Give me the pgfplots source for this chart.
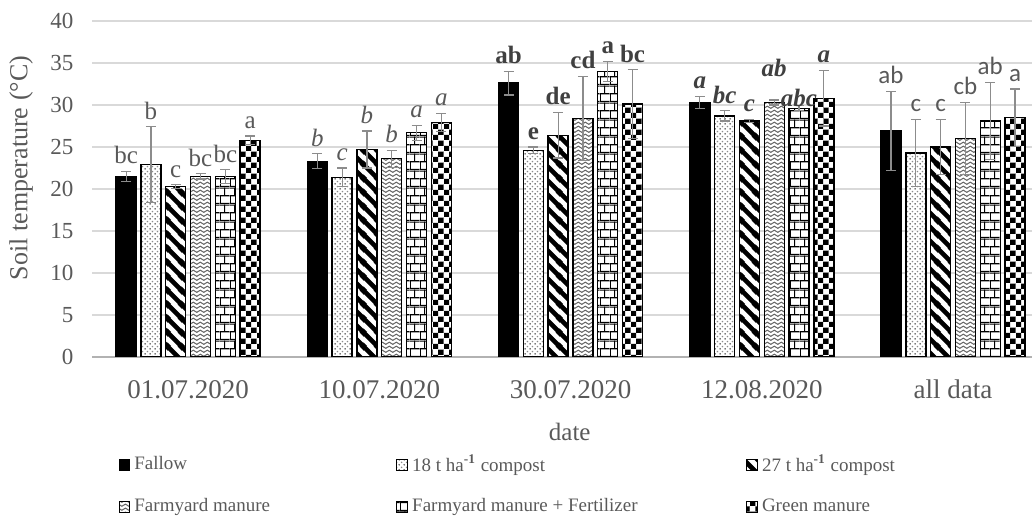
\documentclass[border=0pt]{standalone}
\usepackage{pgfplots}
\pgfplotsset{compat=1.18}
\usepackage{pgfplotstable}
\usepackage{fontspec}
\setmainfont{Liberation Serif}
\newfontfamily\calibri{Carlito}
\usetikzlibrary{patterns.meta}
\definecolor{txt}{HTML}{595959}
\definecolor{gridc}{HTML}{D9D9D9}

\tikzdeclarepattern{
  name=pdots, type=colored,
  bottom left={(0pt,0pt)}, top right={(2.4pt,2.4pt)}, tile size={(2.4pt,2.4pt)},
  code={
    \fill[white] (0pt,0pt) rectangle (2.4pt,2.4pt);
    \fill[black!70] (0.6pt,0.6pt) circle (0.42pt);
    \fill[black!45] (1.8pt,1.8pt) circle (0.42pt);
  }
}
\tikzdeclarepattern{
  name=pstripes, type=colored,
  bottom left={(0pt,0pt)}, top right={(7pt,7pt)}, tile size={(7pt,7pt)},
  code={
    \fill[white] (0pt,0pt) rectangle (7pt,7pt);
    \draw[black, line width=2.4pt] (-1pt,8pt) -- (8pt,-1pt);
    \draw[black, line width=2.4pt] (-1pt,1pt) -- (1pt,-1pt);
    \draw[black, line width=2.4pt] (6pt,8pt) -- (8pt,6pt);
  }
}
\tikzdeclarepattern{
  name=pzig, type=colored,
  bottom left={(0pt,0pt)}, top right={(3.4pt,2.2pt)}, tile size={(3.4pt,2.2pt)},
  code={
    \fill[white] (0pt,0pt) rectangle (3.4pt,2.2pt);
    \draw[black!60, line width=0.55pt] (-0.5pt,0.1pt) -- (1.7pt,1.6pt) -- (3.9pt,0.1pt);
  }
}
\tikzdeclarepattern{
  name=pbricks, type=colored,
  bottom left={(0pt,0pt)}, top right={(5pt,8.6pt)}, tile size={(5pt,8.6pt)},
  code={
    \fill[white] (0pt,0pt) rectangle (5pt,8.6pt);
    \fill[black] (0pt,0pt) rectangle (5pt,0.6pt);
    \fill[black] (0pt,8.0pt) rectangle (5pt,8.6pt);
    \fill[black] (0pt,4.0pt) rectangle (5pt,4.6pt);
    \fill[black] (0pt,0pt) rectangle (0.5pt,4.3pt);
    \fill[black] (2.25pt,4.3pt) rectangle (2.75pt,8.6pt);
  }
}
\tikzdeclarepattern{
  name=pchecker, type=colored,
  bottom left={(0pt,0pt)}, top right={(5.6pt,5.6pt)}, tile size={(5.6pt,5.6pt)},
  code={
    \fill[white] (0pt,0pt) rectangle (5.6pt,5.6pt);
    \fill[black] (0pt,0pt) rectangle (2.8pt,2.8pt);
    \fill[black] (2.8pt,2.8pt) rectangle (5.6pt,5.6pt);
  }
}

\protected\def\LA#1{#1}
\protected\def\LB#1{\itshape #1}
\protected\def\LC#1{\color{black!75}\bfseries #1}
\protected\def\LD#1{\color{black!75}\bfseries\itshape #1}
\protected\def\LE#1{\calibri #1}

\pgfplotstableread{
x v e dy lab
0 21.5 0.6 0 \LA{bc}
1 23.3 0.9 0 \LB{b}
2 32.6 1.4 0 \LC{ab}
3 30.3 0.7 0 \LD{a}
4 26.9 4.7 0 \LE{ab}
}\tA
\pgfplotstableread{
x v e dy lab
0 22.9 4.5 0 \LA{b}
1 21.4 1.1 0 \LB{c}
2 24.6 0.4 0 \LC{e}
3 28.7 0.6 0 \LD{bc}
4 24.3 4.0 0 \LE{c}
}\tB
\pgfplotstableread{
x v e dy lab
0 20.3 0.2 0 \LA{c}
1 24.7 2.2 0 \LB{b}
2 26.4 2.7 0 \LC{de}
3 28.1 0.2 0 \LD{c}
4 25.0 3.3 0 \LE{c}
}\tC
\pgfplotstableread{
x v e dy lab
0 21.5 0.3 0 \LA{bc}
1 23.6 1.0 0 \LB{b}
2 28.4 5.0 0 \LC{cd}
3 30.3 0.3 8 \LD{ab}
4 26.0 4.3 0 \LE{cb}
}\tD
\pgfplotstableread{
x v e dy lab
0 21.5 0.8 0 \LA{bc}
1 26.7 0.9 0 \LB{a}
2 34.0 1.2 0 \LC{a}
3 29.6 0.3 -4 \LD{abc}
4 28.1 4.6 0 \LE{ab}
}\tE
\pgfplotstableread{
x v e dy lab
0 25.8 0.5 0 \LA{a}
1 27.9 1.1 0 \LB{a}
2 30.1 4.1 0 \LC{bc}
3 30.8 3.3 0 \LD{a}
4 28.5 3.4 0 \LE{a}
}\tF

\pgfplotsset{
  sqlegend/.style={legend image code/.code={\draw[##1, line width=0.5pt] (0pt,-2.7pt) rectangle (5.4pt,2.7pt);}},
  mybar/.style={draw=black, line width=0.7pt, sqlegend,
    error bars/y dir=both, error bars/y explicit,
    error bars/error bar style={color=black!45, line width=0.6pt},
    error bars/error mark options={rotate=90, mark size=2.5pt, color=black!45, line width=0.6pt}},
  lbl/.style={draw=none, fill=none, forget plot, nodes near coords,
    point meta=explicit symbolic,
    visualization depends on={\thisrow{dy} \as \dyy},
    every node near coord/.append style={anchor=south, inner sep=1pt, yshift=2.5pt+\dyy*1pt,
      font=\fontsize{12.5}{14}\selectfont, text=txt}},
}

\begin{document}
\begin{tikzpicture}
\path[use as bounding box] (-46.25pt,-85.5pt) rectangle (469.75pt,178.5pt);
\begin{axis}[
  at={(0pt,0pt)}, anchor=south west,
  scale only axis, width=469.75pt, height=168pt,
  ybar, bar width=10pt,
  xmin=-0.5, xmax=4.413, ymin=0, ymax=40,
  xtick={0,1,2,3,4},
  xticklabels={01.07.2020,10.07.2020,30.07.2020,12.08.2020,all data},
  ytick={0,5,...,40},
  ymajorgrids, grid style={gridc, line width=0.6pt},
  axis x line*=bottom, axis y line*=left,
  y axis line style={draw=none},
  x axis line style={-, draw=black!30, line width=0.8pt},
  major tick length=0pt,
  /pgf/number format/assume math mode=true,
  x tick label style={font=\fontsize{13.5}{16}\selectfont, text=txt, yshift=-8pt},
  y tick label style={font=\fontsize{11.5}{14}\selectfont, text=txt, xshift=-6pt},
  ylabel={Soil temperature (°C)},
  ylabel style={at={(axis description cs:-0.076,0.5625)}, anchor=center, font=\fontsize{13}{15}\selectfont, text=txt},
  xlabel={date},
  xlabel style={at={(axis description cs:0.508,-0.223)}, anchor=center, font=\fontsize{12.5}{15}\selectfont, text=txt},
  legend columns=3,
  legend cell align=left,
  legend style={at={(axis description cs:0.021,-0.267)}, anchor=north west, draw=none, fill=none,
    font=\fontsize{9.5}{11}\selectfont, text=txt, row sep=8pt},
]
\addplot[mybar, fill=black, bar shift=-31pt] table[x=x, y=v, y error=e] {\tA};
\addplot[mybar, pattern=pdots, bar shift=-18.6pt] table[x=x, y=v, y error=e] {\tB};
\addplot[mybar, pattern=pstripes, bar shift=-6.2pt] table[x=x, y=v, y error=e] {\tC};
\addplot[mybar, pattern=pzig, bar shift=6.2pt] table[x=x, y=v, y error=e] {\tD};
\addplot[mybar, pattern=pbricks, bar shift=18.6pt] table[x=x, y=v, y error=e] {\tE};
\addplot[mybar, pattern=pchecker, bar shift=31pt] table[x=x, y=v, y error=e] {\tF};
\addlegendentry{\makebox[129pt][l]{Fallow}}
\addlegendentry{\makebox[165pt][l]{18 t ha\textsuperscript{\textbf{-1}} compost}}
\addlegendentry{27 t ha\textsuperscript{\textbf{-1}} compost}
\addlegendentry{\makebox[129pt][l]{Farmyard manure}}
\addlegendentry{\makebox[165pt][l]{Farmyard manure + Fertilizer}}
\addlegendentry{Green manure}
\addplot[lbl, bar shift=-31pt] table[x=x, y expr=\thisrow{v}+\thisrow{e}, meta=lab] {\tA};
\addplot[lbl, bar shift=-18.6pt] table[x=x, y expr=\thisrow{v}+\thisrow{e}, meta=lab] {\tB};
\addplot[lbl, bar shift=-6.2pt] table[x=x, y expr=\thisrow{v}+\thisrow{e}, meta=lab] {\tC};
\addplot[lbl, bar shift=6.2pt] table[x=x, y expr=\thisrow{v}+\thisrow{e}, meta=lab] {\tD};
\addplot[lbl, bar shift=18.6pt] table[x=x, y expr=\thisrow{v}+\thisrow{e}, meta=lab] {\tE};
\addplot[lbl, bar shift=31pt] table[x=x, y expr=\thisrow{v}+\thisrow{e}, meta=lab] {\tF};
\end{axis}
\end{tikzpicture}
\end{document}
